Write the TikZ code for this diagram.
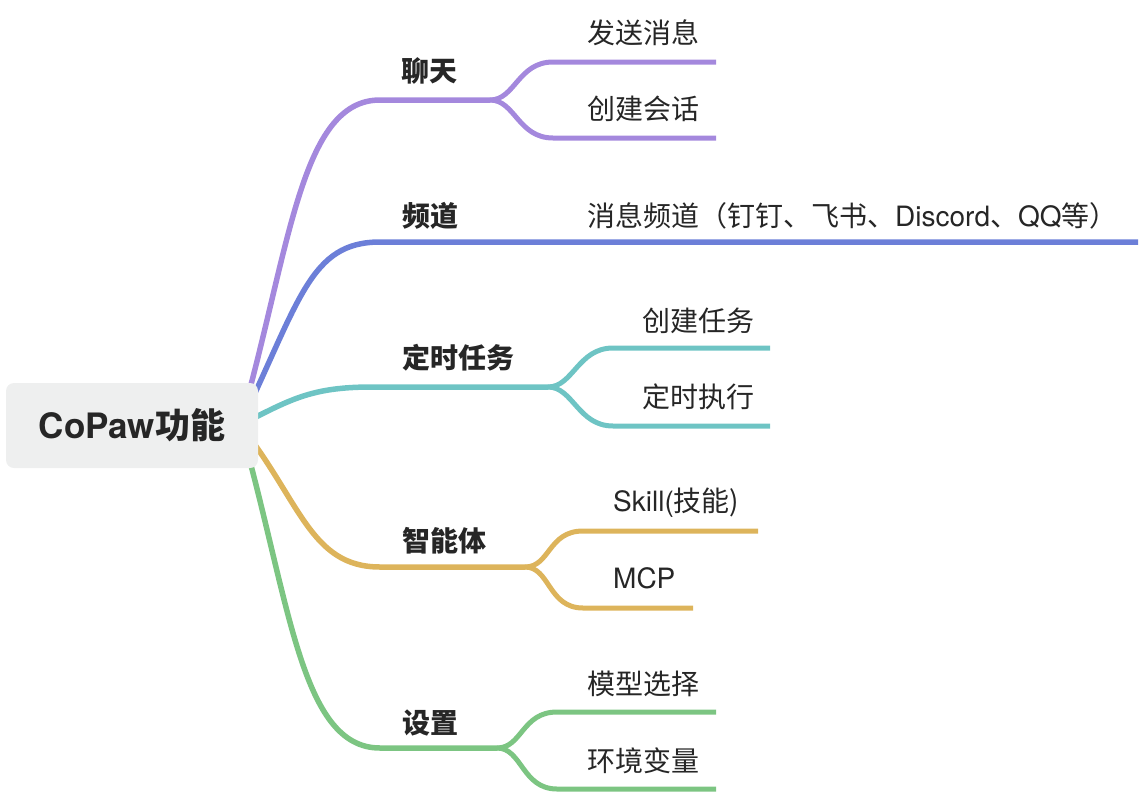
\documentclass[tikz,border=0pt]{standalone}
\usepackage{fontspec}
\setmainfont{Noto Sans CJK SC}
\newfontfamily\lat{TeX Gyre Heros}
\usepackage{xcolor}
\usetikzlibrary{backgrounds}

\definecolor{ink}{HTML}{262626}
\definecolor{rootgray}{HTML}{EEEFEF}
\definecolor{chatc}{HTML}{A488DD}
\definecolor{chanc}{HTML}{6C7FD8}
\definecolor{timec}{HTML}{6EC4C4}
\definecolor{agentc}{HTML}{DDB45B}
\definecolor{setc}{HTML}{7CC582}

\begin{document}
\begin{tikzpicture}[x=1pt,y=-1pt,line cap=round,
    branch/.style={line width=5.5pt},
    twig/.style={line width=5pt},
    topic/.style={anchor=base west,inner sep=0pt,text=ink,font=\fontsize{28}{32}\selectfont\bfseries},
    leaf/.style={anchor=base west,inner sep=0pt,text=ink,font=\fontsize{28}{32}\selectfont}]

    \useasboundingbox (0,0) rectangle (1142,795);

    % Root
    \node[fill=rootgray,rounded corners=8pt,minimum width=252pt,minimum height=85pt,
          inner sep=0pt,text=ink,font=\fontsize{35}{40}\selectfont\bfseries] (root) at (132,425.5) {{\lat CoPaw}功能};
    \coordinate (rootR) at (240,425);

    % Topics
    \node[topic] (chat) at (401,81) {聊天};
    \node[topic] (chan) at (402,226) {频道};
    \node[topic] (timer) at (402,368) {定时任务};
    \node[topic] (agent) at (402,551) {智能体};
    \node[topic] (setting) at (402,733) {设置};

    % Leaves
    \node[leaf] (send) at (587,43) {发送消息};
    \node[leaf] (session) at (587,119) {创建会话};
    \node[leaf] (msgchan) at (587,226) {消息频道（钉钉、飞书、{\lat Discord}、{\lat QQ}等）};
    \node[leaf] (task) at (642,331) {创建任务};
    \node[leaf] (run) at (642,407) {定时执行};
    \node[leaf] (skill) at (613,511) {{\lat Skill(}技能)};
    \node[leaf] (mcp) at (613,588) {{\lat MCP}};
    \node[leaf] (model) at (587,694) {模型选择};
    \node[leaf] (env) at (587,771) {环境变量};

    % Branch points
    \coordinate (chatS) at (380,100);    \coordinate (chatJ) at (490,100);
    \coordinate (chanS) at (380,242);    \coordinate (chanE) at (1138,242);
    \coordinate (timerS) at (372,387);   \coordinate (timerJ) at (548,387);
    \coordinate (agentS) at (380,567);   \coordinate (agentJ) at (525,567);
    \coordinate (settingS) at (380,748); \coordinate (settingJ) at (497,748);

    \coordinate (sendS) at (553,62);     \coordinate (sendE) at (716,62);
    \coordinate (sessionS) at (553,138); \coordinate (sessionE) at (716,138);
    \coordinate (taskS) at (613,348);    \coordinate (taskE) at (770,348);
    \coordinate (runS) at (613,426);     \coordinate (runE) at (770,426);
    \coordinate (skillS) at (583,531);   \coordinate (skillE) at (758,531);
    \coordinate (mcpS) at (583,608);     \coordinate (mcpE) at (693,608);
    \coordinate (modelS) at (557,712);   \coordinate (modelE) at (716,712);
    \coordinate (envS) at (557,789);     \coordinate (envE) at (716,789);

    \begin{scope}[on background layer]
        % chat
        \draw[branch,chatc] (rootR) .. controls (290,250) and (300,100) .. (chatS) -- (chatJ);
        \draw[twig,chatc] (chatJ) .. controls +(25,0) and +(-35,0) .. (sendS) -- (sendE);
        \draw[twig,chatc] (chatJ) .. controls +(25,0) and +(-35,0) .. (sessionS) -- (sessionE);
        % channel
        \draw[branch,chanc] (rootR) .. controls (300,300) and (310,242) .. (chanS) -- (chanE);
        % timer
        \draw[branch,timec] (rootR) .. controls (290,400) and (310,387) .. (timerS) -- (timerJ);
        \draw[twig,timec] (timerJ) .. controls +(25,0) and +(-35,0) .. (taskS) -- (taskE);
        \draw[twig,timec] (timerJ) .. controls +(25,0) and +(-35,0) .. (runS) -- (runE);
        % agent
        \draw[branch,agentc] (rootR) .. controls (300,500) and (310,567) .. (agentS) -- (agentJ);
        \draw[twig,agentc] (agentJ) .. controls +(25,0) and +(-35,0) .. (skillS) -- (skillE);
        \draw[twig,agentc] (agentJ) .. controls +(25,0) and +(-35,0) .. (mcpS) -- (mcpE);
        % setting
        \draw[branch,setc] (rootR) .. controls (290,600) and (300,748) .. (settingS) -- (settingJ);
        \draw[twig,setc] (settingJ) .. controls +(25,0) and +(-35,0) .. (modelS) -- (modelE);
        \draw[twig,setc] (settingJ) .. controls +(25,0) and +(-35,0) .. (envS) -- (envE);
    \end{scope}
\end{tikzpicture}
\end{document}
